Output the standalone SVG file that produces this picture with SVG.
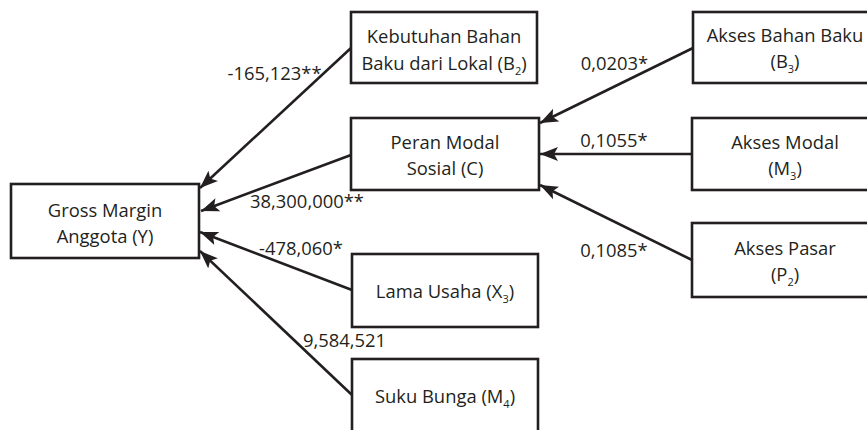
<svg xmlns="http://www.w3.org/2000/svg" width="867" height="430" viewBox="0 0 867 430">
<style>
.box{fill:#fff;stroke:#231f20;stroke-width:2.6}
.t{font-family:"Open Sans","Noto Sans",sans-serif;font-size:18.4px;fill:#231f20;text-anchor:middle}
.sub{font-size:11px}
.c{stroke:#231f20;stroke-width:2.6;fill:none;marker-end:url(#ah)}
</style>
<defs>
<marker id="ah" markerUnits="userSpaceOnUse" markerWidth="20" markerHeight="16" viewBox="0 0 20 16" refX="18" refY="8" orient="auto">
<path d="M0,1 L18,8 L0,15 L4,8 z" fill="#231f20"/>
</marker>
</defs>
<rect width="867" height="430" fill="#fff"/>
<g id="connectors">
<line class="c" x1="351" y1="48" x2="200" y2="188"/>
<line class="c" x1="351" y1="155" x2="201" y2="211"/>
<line class="c" x1="352" y1="290" x2="200" y2="232"/>
<line class="c" x1="352" y1="395" x2="200" y2="251"/>
<line class="c" x1="693" y1="48" x2="540" y2="123"/>
<line class="c" x1="692" y1="154" x2="540" y2="154"/>
<line class="c" x1="692" y1="260" x2="540" y2="185"/>
<g class="t">
<text x="274.5" y="80">-165,123**</text>
<text x="614.5" y="70">0,0203*</text>
<text x="307" y="208">38,300,000**</text>
<text x="301" y="255">-478,060*</text>
<text x="344.5" y="347">9,584,521</text>
<text x="614" y="147">0,1055*</text>
<text x="614" y="257">0,1085*</text>
</g>
</g>
<g id="Y">
<rect class="box" x="11" y="184" width="188" height="74"/>
<text class="t" x="105" y="217">Gross Margin</text>
<text class="t" x="105" y="243">Anggota (Y)</text>
</g>
<g id="B2">
<rect class="box" x="351" y="12" width="186" height="71"/>
<text class="t" x="444" y="43">Kebutuhan Bahan</text>
<text class="t" x="444" y="70">Baku dari Lokal (B<tspan class="sub" dy="5">2</tspan><tspan dy="-5">)</tspan></text>
</g>
<g id="C">
<rect class="box" x="351" y="118" width="188" height="72"/>
<text class="t" x="445" y="149">Peran Modal</text>
<text class="t" x="445" y="175">Sosial (C)</text>
</g>
<g id="X3">
<rect class="box" x="352" y="254" width="186" height="73"/>
<text class="t" x="445" y="298">Lama Usaha (X<tspan class="sub" dy="5">3</tspan><tspan dy="-5">)</tspan></text>
</g>
<g id="M4">
<rect class="box" x="352" y="359" width="186" height="74"/>
<text class="t" x="445" y="403">Suku Bunga (M<tspan class="sub" dy="5">4</tspan><tspan dy="-5">)</tspan></text>
</g>
<g id="B3">
<rect class="box" x="693" y="12" width="186" height="71"/>
<text class="t" x="785" y="42">Akses Bahan Baku</text>
<text class="t" x="785" y="68">(B<tspan class="sub" dy="5">3</tspan><tspan dy="-5">)</tspan></text>
</g>
<g id="M3">
<rect class="box" x="692" y="118" width="187" height="72"/>
<text class="t" x="785" y="149">Akses Modal</text>
<text class="t" x="785" y="175">(M<tspan class="sub" dy="5">3</tspan><tspan dy="-5">)</tspan></text>
</g>
<g id="P2">
<rect class="box" x="692" y="223" width="187" height="74"/>
<text class="t" x="785" y="255">Akses Pasar</text>
<text class="t" x="785" y="281">(P<tspan class="sub" dy="5">2</tspan><tspan dy="-5">)</tspan></text>
</g>
</svg>
